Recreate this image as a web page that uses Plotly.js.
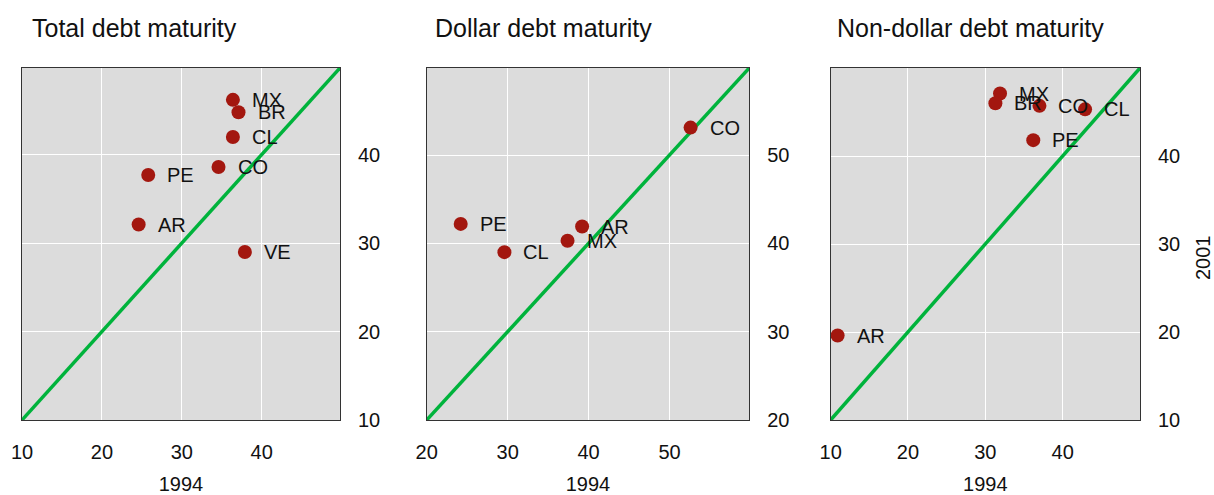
<!DOCTYPE html>
<html>
<head>
<meta charset="utf-8">
<script src="https://cdn.plot.ly/plotly-3.0.1.min.js"></script>
<style>
  html, body { margin: 0; padding: 0; background: #ffffff; }
  #chart { width: 1214px; height: 495px; }
</style>
</head>
<body>
<div id="chart"></div>
<script>
// ---- data ----
const panelTitles = ["Total debt maturity", "Dollar debt maturity", "Non-dollar debt maturity"];
const xTitle = "1994";
const yTitle = "2001";

const totalCountries = ["MX", "BR", "CL", "CO", "PE", "AR", "VE"];
const total1994 = [36.4, 37.1, 36.4, 34.6, 25.8, 24.6, 37.9];
const total2001 = [46.2, 44.8, 42.0, 38.6, 37.7, 32.1, 29.0];

const dollarCountries = ["CO", "PE", "CL", "MX", "AR"];
const dollar1994 = [52.6, 24.2, 29.6, 37.4, 39.2];
const dollar2001 = [53.1, 42.2, 39.0, 40.3, 41.9];

const nondollarCountries = ["MX", "BR", "CO", "CL", "PE", "AR"];
const nondollar1994 = [31.9, 31.3, 37.0, 42.9, 36.2, 10.9];
const nondollar2001 = [47.1, 46.0, 45.7, 45.3, 41.8, 19.6];

// 45-degree reference line (y = x) end values per panel
const diagTotal = [10, 49.8];
const diagDollar = [20, 59.85];
const diagNondollar = [10, 50];

const tickTotal = [10, 20, 30, 40];
const tickDollar = [20, 30, 40, 50];
const tickNondollar = [10, 20, 30, 40];

// ---- styling ----
const FONT = '"Liberation Sans", Arial, sans-serif';
const RED = '#a3170f';
const GREEN = '#00b33c';

const panels = [
  {c: totalCountries, x: total1994, y: total2001, d: diagTotal, t: tickTotal},
  {c: dollarCountries, x: dollar1994, y: dollar2001, d: diagDollar, t: tickDollar},
  {c: nondollarCountries, x: nondollar1994, y: nondollar2001, d: diagNondollar, t: tickNondollar}
];

const xDomains = [[0, 0.2844], [0.3620, 0.6505], [0.7233, 1]];
const traces = [];
const annotations = [];
const layout = {
  width: 1214, height: 495,
  margin: {l: 22, r: 74, t: 68, b: 75},
  paper_bgcolor: '#ffffff',
  plot_bgcolor: '#dcdcdc',
  showlegend: false,
  font: {family: FONT, size: 20, color: '#111111'},
  hovermode: false
};

panels.forEach((p, i) => {
  const n = i === 0 ? '' : String(i + 1);
  const xa = 'x' + n, ya = 'y' + n;
  traces.push({
    type: 'scatter', mode: 'lines', x: p.d, y: p.d, xaxis: xa, yaxis: ya,
    line: {color: GREEN, width: 3.5}, cliponaxis: true
  });
  traces.push({
    type: 'scatter', mode: 'markers', x: p.x, y: p.y, xaxis: xa, yaxis: ya,
    marker: {color: RED, size: 14, line: {width: 0}}, cliponaxis: false
  });
  p.c.forEach((name, k) => {
    annotations.push({
      xref: xa, yref: ya, x: p.x[k], y: p.y[k], text: name,
      showarrow: false, xanchor: 'left', yanchor: 'middle', xshift: 17,
      font: {family: FONT, size: 20, color: '#111111'}
    });
  });
  const axisCommon = {
    range: [p.d[0], p.d[1]], tickvals: p.t, ticktext: p.t.map(String),
    showgrid: true, gridcolor: '#ffffff', gridwidth: 1, zeroline: false,
    showline: true, mirror: true, linecolor: '#333333', linewidth: 1,
    ticks: '', tickfont: {family: FONT, size: 20, color: '#111111'},
    fixedrange: true
  };
  layout['xaxis' + n] = Object.assign({}, axisCommon, {
    domain: xDomains[i], anchor: ya, ticklabelstandoff: 14,
    title: {text: xTitle, font: {family: FONT, size: 20, color: '#111111'}, standoff: 18}
  });
  layout['yaxis' + n] = Object.assign({}, axisCommon, {
    domain: [0, 1], anchor: xa, side: 'right', ticklabelstandoff: 13
  });
  annotations.push({
    xref: 'paper', yref: 'paper',
    x: [(33 - 22) / 1118, (436 - 22) / 1118, (838 - 22) / 1118][i],
    y: (420 - 28) / 352, xanchor: 'left', yanchor: 'middle', xshift: -3,
    text: panelTitles[i], showarrow: false,
    font: {family: FONT, size: 25, color: '#111111'}
  });
});

annotations.push({
  xref: 'paper', yref: 'paper', x: (1203 - 22) / 1118, y: (420 - 258) / 352,
  xanchor: 'center', yanchor: 'middle', textangle: -90, text: yTitle,
  showarrow: false, font: {family: FONT, size: 20, color: '#111111'}
});

layout.annotations = annotations;

Plotly.newPlot('chart', traces, layout, {staticPlot: true, displayModeBar: false});
</script>
</body>
</html>
